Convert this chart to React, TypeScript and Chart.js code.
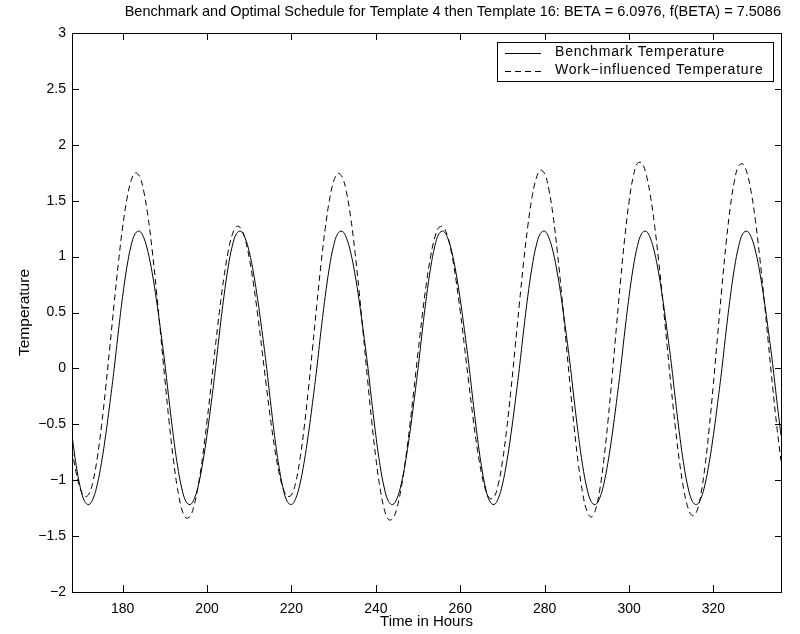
import React, { useEffect, useRef } from 'react';
import { Chart, registerables } from 'chart.js';

Chart.register(...registerables);

const FONT = "'Liberation Sans', Arial, Helvetica, sans-serif";

const titleText =
  'Benchmark and Optimal Schedule for Template 4 then Template 16: BETA = 6.0976, f(BETA) = 7.5086';
const xAxisTitle = 'Time in Hours';
const yAxisTitle = 'Temperature';
const seriesLabels = ['Benchmark Temperature', 'Work\u2212influenced Temperature'];

const hours = [
  168, 169, 170, 171, 172, 173, 174, 175, 176, 177, 178, 179,
  180, 181, 182, 183, 184, 185, 186, 187, 188, 189, 190, 191,
  192, 193, 194, 195, 196, 197, 198, 199, 200, 201, 202, 203,
  204, 205, 206, 207, 208, 209, 210, 211, 212, 213, 214, 215,
  216, 217, 218, 219, 220, 221, 222, 223, 224, 225, 226, 227,
  228, 229, 230, 231, 232, 233, 234, 235, 236, 237, 238, 239,
  240, 241, 242, 243, 244, 245, 246, 247, 248, 249, 250, 251,
  252, 253, 254, 255, 256, 257, 258, 259, 260, 261, 262, 263,
  264, 265, 266, 267, 268, 269, 270, 271, 272, 273, 274, 275,
  276, 277, 278, 279, 280, 281, 282, 283, 284, 285, 286, 287,
  288, 289, 290, 291, 292, 293, 294, 295, 296, 297, 298, 299,
  300, 301, 302, 303, 304, 305, 306, 307, 308, 309, 310, 311,
  312, 313, 314, 315, 316, 317, 318, 319, 320, 321, 322, 323,
  324, 325, 326, 327, 328, 329, 330, 331, 332, 333, 334, 335,
  336,
];

const benchmark = [
  -0.600, -0.869, -1.070, -1.190, -1.218, -1.164, -1.036, -0.840, -0.592, -0.305, 0.000, 0.335,
  0.644, 0.905, 1.098, 1.207, 1.227, 1.169, 1.042, 0.854, 0.615, 0.339, 0.045, -0.286,
  -0.600, -0.869, -1.070, -1.190, -1.218, -1.164, -1.036, -0.840, -0.592, -0.305, 0.000, 0.335,
  0.644, 0.905, 1.098, 1.207, 1.227, 1.169, 1.042, 0.854, 0.615, 0.339, 0.045, -0.286,
  -0.600, -0.869, -1.070, -1.190, -1.218, -1.164, -1.036, -0.840, -0.592, -0.305, 0.000, 0.335,
  0.644, 0.905, 1.098, 1.207, 1.227, 1.169, 1.042, 0.854, 0.615, 0.339, 0.045, -0.286,
  -0.600, -0.869, -1.070, -1.190, -1.218, -1.164, -1.036, -0.840, -0.592, -0.305, 0.000, 0.335,
  0.644, 0.905, 1.098, 1.207, 1.227, 1.169, 1.042, 0.854, 0.615, 0.339, 0.045, -0.286,
  -0.600, -0.869, -1.070, -1.190, -1.218, -1.164, -1.036, -0.840, -0.592, -0.305, 0.000, 0.335,
  0.644, 0.905, 1.098, 1.207, 1.227, 1.169, 1.042, 0.854, 0.615, 0.339, 0.045, -0.286,
  -0.600, -0.869, -1.070, -1.190, -1.218, -1.164, -1.036, -0.840, -0.592, -0.305, 0.000, 0.335,
  0.644, 0.905, 1.098, 1.207, 1.227, 1.169, 1.042, 0.854, 0.615, 0.339, 0.045, -0.286,
  -0.600, -0.869, -1.070, -1.190, -1.218, -1.164, -1.036, -0.840, -0.592, -0.305, 0.000, 0.335,
  0.644, 0.905, 1.098, 1.207, 1.227, 1.169, 1.042, 0.854, 0.615, 0.339, 0.045, -0.286,
  -0.600,
];

const workInfluenced = [
  -0.726, -0.937, -1.081, -1.146, -1.125, -1.006, -0.797, -0.511, -0.169, 0.205, 0.586, 0.947,
  1.264, 1.513, 1.679, 1.749, 1.718, 1.585, 1.360, 1.057, 0.697, 0.304, -0.095, -0.475,
  -0.809, -1.075, -1.256, -1.338, -1.321, -1.215, -1.029, -0.776, -0.471, -0.137, 0.204, 0.529,
  0.815, 1.044, 1.199, 1.270, 1.254, 1.158, 0.988, 0.756, 0.478, 0.172, -0.142, -0.442,
  -0.708, -0.922, -1.071, -1.143, -1.132, -1.021, -0.817, -0.534, -0.193, 0.182, 0.566, 0.931,
  1.252, 1.505, 1.673, 1.744, 1.713, 1.582, 1.359, 1.060, 0.703, 0.313, -0.085, -0.465,
  -0.802, -1.073, -1.260, -1.352, -1.344, -1.248, -1.071, -0.825, -0.527, -0.196, 0.144, 0.473,
  0.767, 1.006, 1.175, 1.263, 1.263, 1.179, 1.017, 0.789, 0.508, 0.197, -0.125, -0.434,
  -0.710, -0.933, -1.088, -1.163, -1.151, -1.038, -0.831, -0.544, -0.197, 0.185, 0.575, 0.946,
  1.272, 1.530, 1.700, 1.773, 1.740, 1.600, 1.363, 1.046, 0.671, 0.264, -0.146, -0.530,
  -0.860, -1.115, -1.275, -1.330, -1.271, -1.099, -0.825, -0.471, -0.064, 0.368, 0.792, 1.177,
  1.493, 1.718, 1.835, 1.838, 1.742, 1.556, 1.292, 0.965, 0.596, 0.206, -0.180, -0.539,
  -0.849, -1.091, -1.251, -1.318, -1.282, -1.130, -0.873, -0.531, -0.130, 0.301, 0.728, 1.120,
  1.447, 1.684, 1.814, 1.827, 1.740, 1.563, 1.304, 0.982, 0.616, 0.228, -0.157, -0.516,
  -0.827,
];

const xTicks = [180, 200, 220, 240, 260, 280, 300, 320];
const xTickLabels = ['180', '200', '220', '240', '260', '280', '300', '320'];
const yTicks = [-2, -1.5, -1, -0.5, 0, 0.5, 1, 1.5, 2, 2.5, 3];
const yTickLabels = ['\u22122', '\u22121.5', '\u22121', '\u22120.5', '0', '0.5', '1', '1.5', '2', '2.5', '3'];

const framePlugin = {
  id: 'matlabFrame',
  afterDatasetsDraw(chart: any) {
    const { ctx, chartArea, scales } = chart;
    const { left, right, top, bottom } = chartArea;
    const tl = 7;
    ctx.save();
    ctx.strokeStyle = '#000';
    ctx.lineWidth = 1;
    ctx.setLineDash([]);
    ctx.strokeRect(Math.round(left) + 0.5, Math.round(top) + 0.5, Math.round(right - left), Math.round(bottom - top));
    ctx.beginPath();
    for (const v of xTicks) {
      const px = Math.round(scales.x.getPixelForValue(v)) + 0.5;
      ctx.moveTo(px, bottom);
      ctx.lineTo(px, bottom - tl);
      ctx.moveTo(px, top);
      ctx.lineTo(px, top + tl);
    }
    for (const v of yTicks) {
      const py = Math.round(scales.y.getPixelForValue(v)) + 0.5;
      ctx.moveTo(left, py);
      ctx.lineTo(left + tl, py);
      ctx.moveTo(right + 1, py);
      ctx.lineTo(right + 1 - tl, py);
    }
    ctx.stroke();

    // legend box
    ctx.font = `14px ${FONT}`;
    (ctx as any).letterSpacing = '0.8px';
    const textW = Math.max(...seriesLabels.map((s) => ctx.measureText(s).width));
    const boxRight = Math.round(right) - 8;
    const boxTop = Math.round(top) + 9;
    const textOffset = 58;
    const boxW = Math.round(textOffset + textW + 10);
    const boxH = 39;
    const boxLeft = boxRight - boxW;
    ctx.fillStyle = '#fff';
    ctx.fillRect(boxLeft, boxTop, boxW, boxH);
    ctx.strokeRect(boxLeft + 0.5, boxTop + 0.5, boxW, boxH);
    ctx.fillStyle = '#000';
    ctx.textBaseline = 'middle';
    ctx.textAlign = 'left';
    const rows = [boxTop + 10.5, boxTop + 28.5];
    chart.data.datasets.forEach((ds: any, i: number) => {
      const y = Math.round(rows[i]) + 0.5;
      ctx.beginPath();
      ctx.setLineDash(ds.borderDash || []);
      ctx.moveTo(boxLeft + 8, y);
      ctx.lineTo(boxLeft + 44, y);
      ctx.stroke();
      ctx.setLineDash([]);
      ctx.fillText(ds.label, boxLeft + textOffset, rows[i]);
    });
    (ctx as any).letterSpacing = '0px';
    ctx.restore();
  },
};

export default function App() {
  const ref = useRef<HTMLCanvasElement | null>(null);
  useEffect(() => {
    document.body.style.margin = '0';
    const canvas = ref.current;
    if (!canvas) return;
    const chart = new Chart(canvas, {
      type: 'line',
      data: {
        datasets: [
          {
            label: seriesLabels[0],
            data: hours.map((h, i) => ({ x: h, y: benchmark[i] })),
            borderColor: '#000',
            borderWidth: 1,
            pointRadius: 0,
            tension: 0.4,
            fill: false,
          },
          {
            label: seriesLabels[1],
            data: hours.map((h, i) => ({ x: h, y: workInfluenced[i] })),
            borderColor: '#000',
            borderWidth: 1,
            borderDash: [6, 4],
            pointRadius: 0,
            tension: 0.4,
            fill: false,
          },
        ],
      },
      options: {
        responsive: false,
        animation: false,
        devicePixelRatio: 1,
        layout: { padding: { left: 0, right: 19, top: 0, bottom: 0 } },
        plugins: {
          legend: { display: false },
          tooltip: { enabled: false },
          title: {
            display: true,
            text: titleText,
            align: 'end',
            color: '#000',
            font: { family: FONT, size: 14.5, weight: 'normal' },
            padding: { top: 3.3, bottom: 12.3 },
          },
        },
        scales: {
          x: {
            type: 'linear',
            min: 168,
            max: 336,
            afterBuildTicks: (s: any) => {
              s.ticks = xTicks.map((v) => ({ value: v }));
            },
            afterFit: (s: any) => {
              s.height = 42;
            },
            grid: { display: false, drawTicks: false },
            border: { display: false },
            ticks: {
              color: '#000',
              font: { family: FONT, size: 14 },
              padding: 8.5,
              maxRotation: 0,
              autoSkip: false,
              callback: (v: any) => xTickLabels[xTicks.indexOf(Number(v))] ?? '',
            },
            title: {
              display: true,
              text: xAxisTitle,
              color: '#000',
              font: { family: FONT, size: 15 },
              padding: { top: 0, bottom: 3 },
            },
          },
          y: {
            type: 'linear',
            min: -2,
            max: 3,
            afterBuildTicks: (s: any) => {
              s.ticks = yTicks.map((v) => ({ value: v }));
            },
            afterFit: (s: any) => {
              s.width = 72;
            },
            grid: { display: false, drawTicks: false },
            border: { display: false },
            ticks: {
              color: '#000',
              font: { family: FONT, size: 14 },
              padding: 6,
              autoSkip: false,
              callback: (v: any) => yTickLabels[yTicks.indexOf(Number(v))] ?? '',
            },
            title: {
              display: true,
              text: yAxisTitle,
              color: '#000',
              font: { family: FONT, size: 15.5 },
              padding: { top: 15.5, bottom: 0 },
            },
          },
        },
      },
      plugins: [framePlugin],
    });
    return () => chart.destroy();
  }, []);
  return <canvas ref={ref} width={800} height={634} style={{ display: 'block' }} />;
}
